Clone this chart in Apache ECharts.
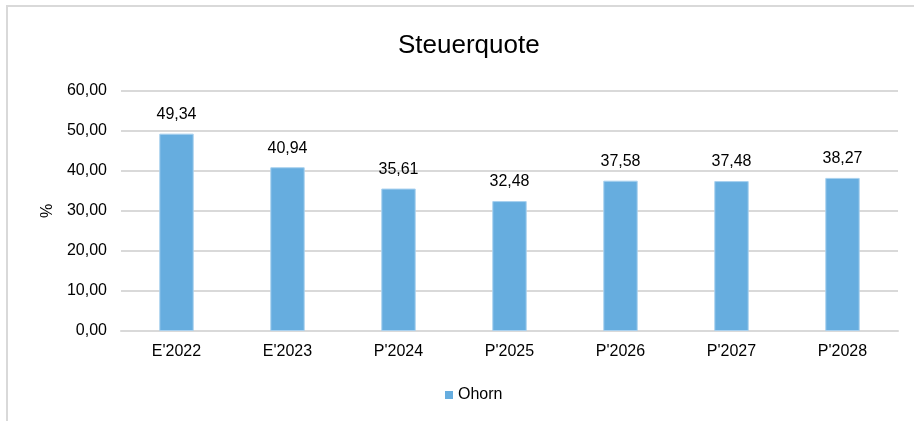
<!DOCTYPE html>
<html><head><meta charset="utf-8">
<script src="https://cdn.jsdelivr.net/npm/echarts@6/dist/echarts.min.js"></script>
<style>
html,body{margin:0;padding:0;background:#fff;}
#frame{position:absolute;left:6px;top:5px;width:930px;height:430px;border-left:2px solid #d9d9d9;border-top:2px solid #d9d9d9;}
#c{position:absolute;left:0;top:0;width:914px;height:421px;}
</style></head>
<body>
<div id="frame"></div>
<div id="c"></div>
<script>
const categories = ["E'2022","E'2023","P'2024","P'2025","P'2026","P'2027","P'2028"];
const values = [49.34, 40.94, 35.61, 32.48, 37.58, 37.48, 38.27];
const seriesName = "Ohorn";
const chartTitle = "Steuerquote";
const fmt = v => Number(v).toFixed(2).replace('.', ',');
const chart = echarts.init(document.getElementById('c'), null, {renderer:'canvas'});
const font = 'Liberation Sans, Arial, sans-serif';
chart.setOption({
  animation:false,
  title:{text:chartTitle,left:393,top:28,textStyle:{fontFamily:font,fontSize:26,fontWeight:'normal',color:'#000'}},
  legend:{top:382,left:440,itemWidth:8,itemHeight:8,itemGap:4,icon:'rect',itemStyle:{borderWidth:0},textStyle:{fontFamily:font,fontSize:16,color:'#000'},data:[seriesName]},
  grid:{left:121,right:16,top:91,bottom:90,containLabel:false},
  xAxis:{type:'category',data:categories,axisTick:{show:false},
    axisLine:{lineStyle:{color:'#d9d9d9',width:2}},
    axisLabel:{fontFamily:font,fontSize:16,color:'#000',margin:13}},
  yAxis:{type:'value',min:0,max:60,interval:10,name:'%',nameLocation:'middle',nameGap:62,nameRotate:90,
    nameTextStyle:{fontFamily:font,fontSize:16,color:'#000'},
    axisLine:{show:false},axisTick:{show:false},
    splitLine:{lineStyle:{color:'#d9d9d9',width:2}},
    axisLabel:{fontFamily:font,fontSize:16,color:'#000',margin:14,formatter:fmt}},
  series:[{name:seriesName,type:'bar',data:values,barWidth:'31%',
    itemStyle:{color:'#66addf',borderColor:'#a9d1ef',borderWidth:1},
    label:{show:true,position:'top',distance:11,fontFamily:font,fontSize:16,color:'#000',formatter:p=>fmt(p.value)}}]
});
</script>
</body></html>
